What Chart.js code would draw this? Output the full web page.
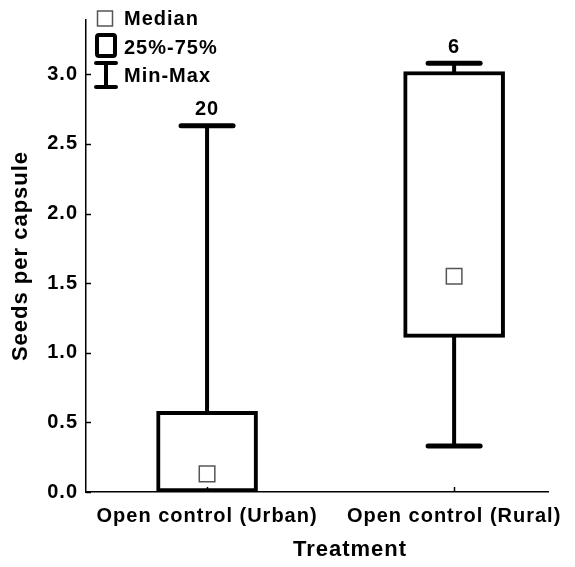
<!DOCTYPE html>
<html>
<head>
<meta charset="utf-8">
<script src="https://cdn.jsdelivr.net/npm/chart.js@4.4.0/dist/chart.umd.min.js"></script>
<style>
    html, body { margin: 0; padding: 0; background: #fff; }
    #wrap { width: 575px; height: 567px; }
</style>
</head>
<body>
<div id="wrap"><canvas id="seedChart"></canvas></div>
<script>
// Seeds per capsule, one box per treatment
const categories = ['Open control (Urban)', 'Open control (Rural)'];
const positions = [1, 2];
const minValues = [0, 0.33];
const q1Values = [0, 1.11];
const medianValues = [0.13, 1.55];
const q3Values = [0.58, 3.02];
const maxValues = [2.63, 3.08];
const sampleSizes = [20, 6];
const yTicks = [0, 0.5, 1.0, 1.5, 2.0, 2.5, 3.0];

const FONT = "'Liberation Sans', Arial, sans-serif";

// the bold labels are a little spread out
const spacingPlugin = {
    id: 'spacing',
    beforeLayout(chart) { chart.ctx.letterSpacing = '1px'; },
    beforeDraw(chart) { chart.ctx.letterSpacing = '1px'; },
};

// whiskers, caps and N labels
const whiskerPlugin = {
    id: 'whiskers',
    beforeDatasetsDraw(chart) {
        const { ctx, scales: { x, y } } = chart;
        const capHalf = 26;
        ctx.save();
        ctx.strokeStyle = '#000';
        ctx.lineCap = 'round';
        function seg(x1, y1, x2, y2) {
            ctx.beginPath();
            ctx.moveTo(x1, y1);
            ctx.lineTo(x2, y2);
            ctx.stroke();
        }
        positions.forEach((pos, i) => {
            const px = x.getPixelForValue(pos);
            const yMax = y.getPixelForValue(maxValues[i]);
            const yMin = y.getPixelForValue(minValues[i]);
            ctx.lineWidth = 4;
            seg(px, y.getPixelForValue(q3Values[i]), px, yMax);
            if (minValues[i] < q1Values[i]) {
                seg(px, y.getPixelForValue(q1Values[i]), px, yMin);
            }
            ctx.lineWidth = 5;
            seg(px - capHalf, yMax, px + capHalf, yMax);
            if (minValues[i] < q1Values[i]) {
                seg(px - capHalf, yMin, px + capHalf, yMin);
            }
            ctx.fillStyle = '#000';
            ctx.font = 'bold 20px ' + FONT;
            ctx.textAlign = 'center';
            ctx.textBaseline = 'bottom';
            ctx.fillText(String(sampleSizes[i]), px, yMax - 6);
        });
        ctx.restore();
    }
};

// tick marks pointing into the plot, and the x title
const innerTicksPlugin = {
    id: 'innerTicks',
    afterDraw(chart) {
        const { ctx, chartArea, scales: { x, y } } = chart;
        ctx.save();
        ctx.strokeStyle = '#000';
        ctx.lineWidth = 1.5;
        yTicks.forEach(v => {
            const py = Math.round(y.getPixelForValue(v)) + 0.5;
            ctx.beginPath();
            ctx.moveTo(chartArea.left, py);
            ctx.lineTo(chartArea.left + 5, py);
            ctx.stroke();
        });
        positions.forEach(p => {
            const px = Math.round(x.getPixelForValue(p)) + 0.5;
            ctx.beginPath();
            ctx.moveTo(px, chartArea.bottom);
            ctx.lineTo(px, chartArea.bottom - 5);
            ctx.stroke();
        });

        ctx.fillStyle = '#000';
        ctx.font = 'bold 22px ' + FONT;
        ctx.textAlign = 'center';
        ctx.textBaseline = 'middle';
        ctx.fillText('Treatment', 350, chartArea.bottom + 58);
        ctx.restore();
    }
};

// legend in the top left corner
const legendPlugin = {
    id: 'boxLegend',
    afterDraw(chart) {
        const ctx = chart.ctx;
        ctx.save();
        ctx.fillStyle = '#fff';
        ctx.strokeStyle = '#555';
        ctx.lineWidth = 1.5;
        ctx.fillRect(97.5, 11, 15, 15);
        ctx.strokeRect(97.5, 11, 15, 15);

        ctx.strokeStyle = '#000';
        ctx.lineWidth = 4;
        ctx.beginPath();
        ctx.roundRect(97, 35, 18, 21, 2);
        ctx.stroke();

        ctx.lineCap = 'round';
        ctx.beginPath();
        ctx.moveTo(96, 63); ctx.lineTo(116, 63);
        ctx.moveTo(106, 63); ctx.lineTo(106, 87);
        ctx.moveTo(96, 87); ctx.lineTo(116, 87);
        ctx.stroke();

        ctx.fillStyle = '#000';
        ctx.font = 'bold 20px ' + FONT;
        ctx.textAlign = 'left';
        ctx.textBaseline = 'middle';
        ctx.fillText('Median', 124, 19);
        ctx.fillText('25%-75%', 124, 48);
        ctx.fillText('Min-Max', 124, 76);
        ctx.restore();
    }
};

const ctx = document.getElementById('seedChart').getContext('2d');
const seedChart = new Chart(ctx, {
    type: 'bar',
    data: {
        datasets: [{
            type: 'scatter',
            label: 'Median',
            data: positions.map((p, i) => ({ x: p, y: medianValues[i] })),
            pointStyle: 'rect',
            radius: 11,
            backgroundColor: '#fff',
            borderColor: '#555',
            borderWidth: 1.5,
        }, {
            type: 'bar',
            label: '25%-75%',
            data: positions.map((p, i) => ({ x: p, y: [q1Values[i], q3Values[i]] })),
            backgroundColor: '#fff',
            borderColor: '#000',
            borderWidth: 4,
            borderSkipped: false,
            barThickness: 101,
        }],
    },
    options: {
        responsive: true,
        maintainAspectRatio: false,
        animation: false,
        layout: { padding: { top: 20, right: 27, left: 0, bottom: 0 } },
        plugins: {
            legend: { display: false },
            tooltip: { enabled: false },
        },
        scales: {
            x: {
                type: 'linear',
                min: 0.51,
                max: 2.38,
                offset: false,
                grid: { display: false, drawTicks: false },
                border: { display: true, color: '#000', width: 1.5 },
                afterBuildTicks: scale => { scale.ticks = positions.map(v => ({ value: v })); },
                afterFit: scale => {
                    scale.height = 75;
                    scale.paddingLeft = 0;
                    scale.paddingRight = 0;
                },
                ticks: {
                    color: '#000',
                    padding: 12,
                    maxRotation: 0,
                    autoSkip: false,
                    font: { family: FONT, size: 20, weight: 'bold' },
                    callback: v => categories[positions.indexOf(v)],
                },
            },
            y: {
                min: 0,
                max: 3.39,
                grid: { display: false, drawTicks: false },
                border: { display: true, color: '#000', width: 1.5 },
                afterBuildTicks: scale => { scale.ticks = yTicks.map(v => ({ value: v })); },
                afterFit: scale => {
                    scale.width = 86;
                    scale.paddingTop = 0;
                    scale.paddingBottom = 0;
                },
                ticks: {
                    color: '#000',
                    padding: 8,
                    font: { family: FONT, size: 20, weight: 'bold' },
                    callback: v => Number(v).toFixed(1),
                },
                title: {
                    display: true,
                    text: 'Seeds per capsule',
                    color: '#000',
                    padding: { top: 8, bottom: 0 },
                    font: { family: FONT, size: 22, weight: 'bold' },
                },
            },
        },
    },
    plugins: [spacingPlugin, whiskerPlugin, innerTicksPlugin, legendPlugin],
});
</script>
</body>
</html>
